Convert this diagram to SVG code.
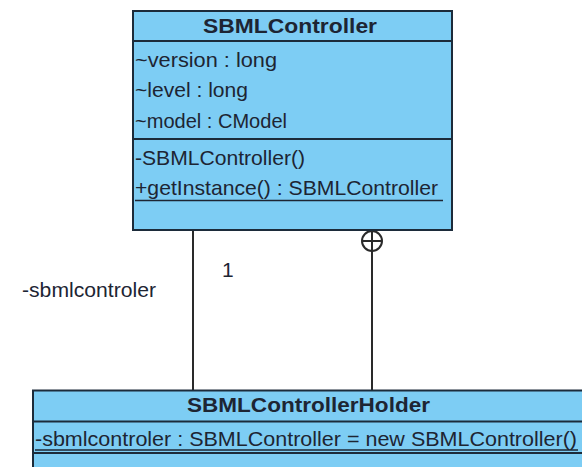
<svg xmlns="http://www.w3.org/2000/svg" width="582" height="467" viewBox="0 0 582 467">
<style>
.box{fill:#7DCDF4;stroke:#1C2B3A;stroke-width:2}
.sep{stroke:#1C2B3A;stroke-width:2}
.t{font-family:"Liberation Sans",Arial,sans-serif;font-size:21px;fill:#1d2533}
.b{font-weight:bold;text-anchor:middle}
.ul{stroke:#1d2533;stroke-width:1.6}
.conn{stroke:#2a2a2a;stroke-width:2;fill:none}
</style>
<rect width="582" height="467" fill="#ffffff"/>
<g id="connectors">
<line class="conn" x1="193" y1="231" x2="193" y2="390"/>
<line class="conn" x1="372" y1="231" x2="372" y2="390"/>
<circle class="conn" cx="372" cy="241" r="10"/>
<line class="conn" x1="362" y1="241" x2="382" y2="241"/>
<text class="t" x="222" y="277">1</text>
<text class="t" x="22" y="297" textLength="134" lengthAdjust="spacingAndGlyphs">-sbmlcontroler</text>
</g>
<g id="SBMLController">
<rect class="box" x="133" y="11" width="319" height="219"/>
<line class="sep" x1="133" y1="41" x2="452" y2="41"/>
<line class="sep" x1="133" y1="139" x2="452" y2="139"/>
<text class="t b" x="290" y="33" textLength="174" lengthAdjust="spacingAndGlyphs">SBMLController</text>
<text class="t" x="135" y="66.5" textLength="142" lengthAdjust="spacingAndGlyphs">~version : long</text>
<text class="t" x="135" y="97" textLength="113" lengthAdjust="spacingAndGlyphs">~level : long</text>
<text class="t" x="135" y="128" textLength="152" lengthAdjust="spacingAndGlyphs">~model : CModel</text>
<text class="t" x="135" y="165" textLength="170" lengthAdjust="spacingAndGlyphs">-SBMLController()</text>
<text class="t" x="135" y="195" textLength="303" lengthAdjust="spacingAndGlyphs">+getInstance() : SBMLController</text>
<line class="ul" x1="135" y1="200.5" x2="443" y2="200.5"/>
</g>
<g id="SBMLControllerHolder">
<rect class="box" x="33" y="390.5" width="570" height="90"/>
<line class="sep" x1="33" y1="421.5" x2="582" y2="421.5"/>
<line class="sep" x1="33" y1="453" x2="582" y2="453"/>
<text class="t b" x="308.5" y="412" textLength="243" lengthAdjust="spacingAndGlyphs">SBMLControllerHolder</text>
<text class="t" x="35" y="446" textLength="542" lengthAdjust="spacingAndGlyphs">-sbmlcontroler : SBMLController = new SBMLController()</text>
<line class="ul" x1="35" y1="450" x2="578" y2="450"/>
</g>
</svg>
